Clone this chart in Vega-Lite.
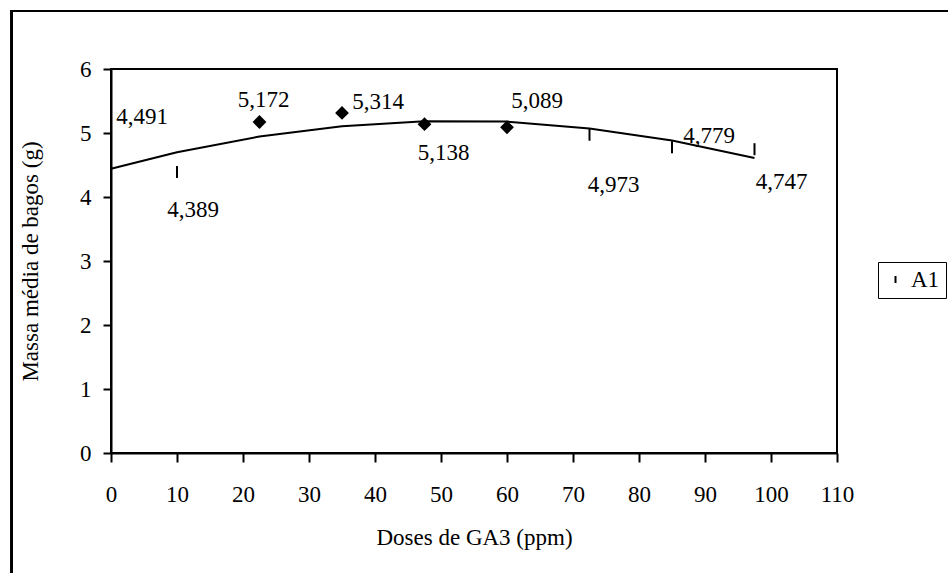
{
  "$schema": "https://vega.github.io/schema/vega-lite/v6.json",
  "width": 726,
  "height": 384,
  "autosize": "none",
  "padding": {"left": 111, "top": 69, "right": 111, "bottom": 120},
  "background": "white",
  "config": {
    "font": "Liberation Serif",
    "view": {"stroke": "black", "strokeWidth": 2},
    "locale": {"number": {"decimal": ",", "thousands": ".", "grouping": [3], "currency": ["", ""]}},
    "axis": {
      "grid": false,
      "labelFlush": false,
      "labelOverlap": false,
      "domainColor": "black",
      "domainWidth": 2,
      "tickColor": "black",
      "tickWidth": 2,
      "labelFont": "Liberation Serif",
      "labelFontSize": 23,
      "labelColor": "black",
      "titleFont": "Liberation Serif",
      "titleFontSize": 23,
      "titleFontWeight": "normal",
      "titleColor": "black"
    }
  },
  "data": {
    "values": [
      {"dose": 0, "massa": 4.491, "ajuste": 4.44, "serie": "A1"},
      {"dose": 10, "massa": 4.389, "ajuste": 4.70, "serie": "A1"},
      {"dose": 22.5, "massa": 5.172, "ajuste": 4.945, "serie": "A1"},
      {"dose": 35, "massa": 5.314, "ajuste": 5.107, "serie": "A1"},
      {"dose": 47.5, "massa": 5.138, "ajuste": 5.185, "serie": "A1"},
      {"dose": 60, "massa": 5.089, "ajuste": 5.178, "serie": "A1"},
      {"dose": 72.5, "massa": 4.973, "ajuste": 5.07, "serie": "A1"},
      {"dose": 85, "massa": 4.779, "ajuste": 4.883, "serie": "A1"},
      {"dose": 97.5, "massa": 4.747, "ajuste": 4.608, "serie": "A1"}
    ]
  },
  "encoding": {
    "x": {
      "field": "dose", "type": "quantitative",
      "scale": {"domain": [0, 110], "nice": false, "zero": false, "clamp": false},
      "axis": {"values": [0, 10, 20, 30, 40, 50, 60, 70, 80, 90, 100, 110], "tickSize": 9, "labelPadding": 21, "title": "Doses de GA3 (ppm)", "titlePadding": 20, "format": "d"}
    }
  },
  "layer": [
    {
      "mark": {"type": "rule", "color": "black", "strokeWidth": 2, "clip": false},
      "encoding": {
        "x": {"datum": -15.05},
        "y": {"datum": 6.905},
        "y2": {"datum": -2.5}
      }
    },
    {
      "mark": {"type": "rule", "color": "black", "strokeWidth": 2, "clip": false},
      "encoding": {
        "x": {"datum": -15.2},
        "x2": {"datum": 130},
        "y": {"datum": 6.905}
      }
    },
    {
      "mark": {"type": "line", "color": "black", "strokeWidth": 2},
      "encoding": {
        "y": {
          "field": "ajuste", "type": "quantitative",
          "scale": {"domain": [0, 6], "nice": false, "clamp": false},
          "axis": {"values": [0, 1, 2, 3, 4, 5, 6], "tickSize": 8, "labelPadding": 12, "title": "Massa média de bagos (g)", "titlePadding": 37, "format": "d"}
        }
      }
    },
    {
      "transform": [{"filter": "datum.dose < 20 || datum.dose > 65"}],
      "mark": {"type": "point", "filled": false, "stroke": "black", "strokeWidth": 2, "size": 144, "opacity": 1},
      "encoding": {
        "y": {"field": "massa", "type": "quantitative"},
        "shape": {
          "field": "serie", "type": "nominal",
          "scale": {"range": ["M0,-1L0,1"]},
          "legend": {
            "title": null, "orient": "none", "legendX": 767, "legendY": 193,
            "strokeColor": "black", "padding": 6,
            "symbolSize": 49, "symbolStrokeWidth": 2, "symbolStrokeColor": "black",
            "labelFont": "Liberation Serif", "labelFontSize": 23, "labelColor": "black"
          }
        }
      }
    },
    {
      "transform": [{"filter": "datum.dose > 20 && datum.dose < 65"}],
      "mark": {"type": "point", "shape": "diamond", "filled": true, "color": "black", "size": 190, "opacity": 1},
      "encoding": {"y": {"field": "massa", "type": "quantitative"}}
    },
    {
      "transform": [{"filter": "datum.dose == 0"}],
      "mark": {"type": "text", "fontSize": 23, "color": "black", "align": "center", "baseline": "middle", "dx": 31, "dy": -49},
      "encoding": {"y": {"field": "massa", "type": "quantitative"}, "text": {"field": "massa", "type": "quantitative", "format": ".3f"}}
    },
    {
      "transform": [{"filter": "datum.dose == 10"}],
      "mark": {"type": "text", "fontSize": 23, "color": "black", "align": "center", "baseline": "middle", "dx": 16, "dy": 38},
      "encoding": {"y": {"field": "massa", "type": "quantitative"}, "text": {"field": "massa", "type": "quantitative", "format": ".3f"}}
    },
    {
      "transform": [{"filter": "datum.dose == 22.5"}],
      "mark": {"type": "text", "fontSize": 23, "color": "black", "align": "center", "baseline": "middle", "dx": 4, "dy": -22},
      "encoding": {"y": {"field": "massa", "type": "quantitative"}, "text": {"field": "massa", "type": "quantitative", "format": ".3f"}}
    },
    {
      "transform": [{"filter": "datum.dose == 35"}],
      "mark": {"type": "text", "fontSize": 23, "color": "black", "align": "center", "baseline": "middle", "dx": 36, "dy": -11},
      "encoding": {"y": {"field": "massa", "type": "quantitative"}, "text": {"field": "massa", "type": "quantitative", "format": ".3f"}}
    },
    {
      "transform": [{"filter": "datum.dose == 47.5"}],
      "mark": {"type": "text", "fontSize": 23, "color": "black", "align": "center", "baseline": "middle", "dx": 19, "dy": 29},
      "encoding": {"y": {"field": "massa", "type": "quantitative"}, "text": {"field": "massa", "type": "quantitative", "format": ".3f"}}
    },
    {
      "transform": [{"filter": "datum.dose == 60"}],
      "mark": {"type": "text", "fontSize": 23, "color": "black", "align": "center", "baseline": "middle", "dx": 30, "dy": -26},
      "encoding": {"y": {"field": "massa", "type": "quantitative"}, "text": {"field": "massa", "type": "quantitative", "format": ".3f"}}
    },
    {
      "transform": [{"filter": "datum.dose == 72.5"}],
      "mark": {"type": "text", "fontSize": 23, "color": "black", "align": "center", "baseline": "middle", "dx": 24, "dy": 50},
      "encoding": {"y": {"field": "massa", "type": "quantitative"}, "text": {"field": "massa", "type": "quantitative", "format": ".3f"}}
    },
    {
      "transform": [{"filter": "datum.dose == 85"}],
      "mark": {"type": "text", "fontSize": 23, "color": "black", "align": "center", "baseline": "middle", "dx": 37, "dy": -11},
      "encoding": {"y": {"field": "massa", "type": "quantitative"}, "text": {"field": "massa", "type": "quantitative", "format": ".3f"}}
    },
    {
      "transform": [{"filter": "datum.dose == 97.5"}],
      "mark": {"type": "text", "fontSize": 23, "color": "black", "align": "center", "baseline": "middle", "dx": 27, "dy": 33},
      "encoding": {"y": {"field": "massa", "type": "quantitative"}, "text": {"field": "massa", "type": "quantitative", "format": ".3f"}}
    }
  ]
}
